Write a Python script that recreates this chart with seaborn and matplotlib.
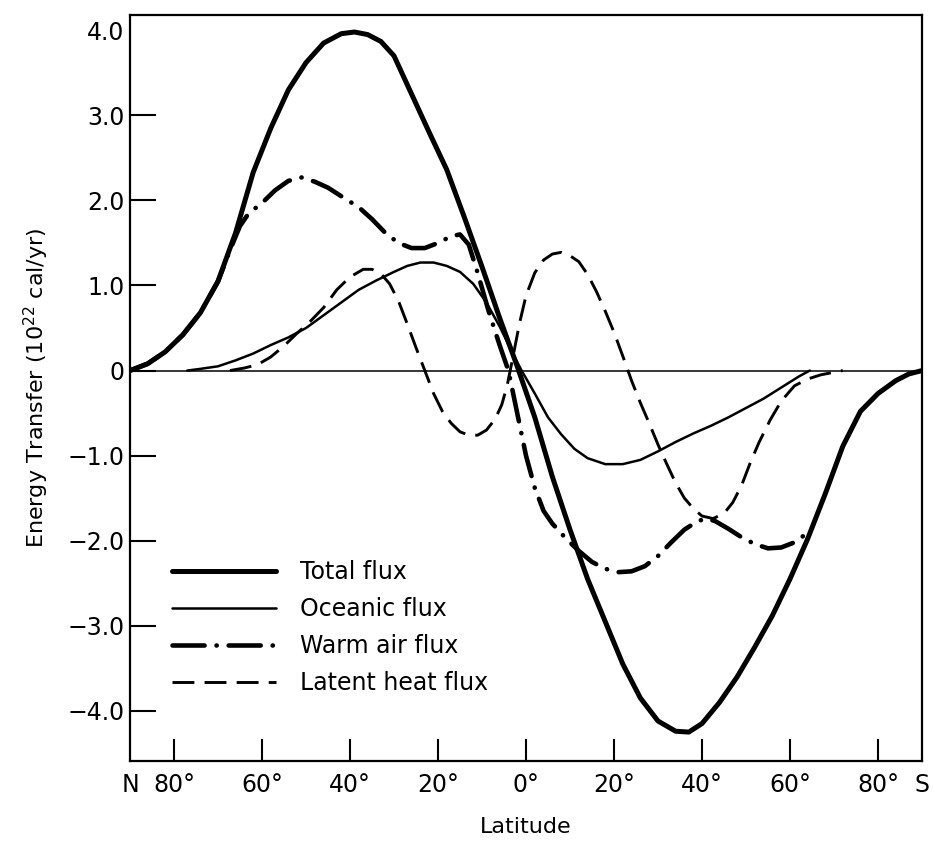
import numpy as np
import pandas as pd
import matplotlib
matplotlib.use("Agg")
import matplotlib.pyplot as plt
import seaborn as sns
from matplotlib.lines import Line2D

# ---------------- data (latitude: + = north, - = south) ----------------
total_lat = [90, 86, 82, 78, 74, 70, 66, 62, 58, 54, 50, 46, 42, 39, 36, 33, 30, 26, 22, 18, 14, 10, 6, 2,
             -2, -6, -10, -14, -18, -22, -26, -30, -34, -37, -40, -44, -48, -52, -56, -60, -64, -68,
             -72, -76, -80, -84, -87, -90]
total_val = [0.0, 0.08, 0.22, 0.42, 0.68, 1.05, 1.62, 2.33, 2.85, 3.30, 3.62, 3.85, 3.96, 3.98, 3.95, 3.87,
             3.70, 3.25, 2.80, 2.36, 1.80, 1.22, 0.62, 0.05,
             -0.55, -1.25, -1.87, -2.45, -2.95, -3.45, -3.85, -4.12, -4.24, -4.25, -4.15, -3.90, -3.60,
             -3.25, -2.88, -2.45, -1.98, -1.45, -0.89, -0.48, -0.27, -0.12, -0.04, 0.0]

ocean_lat = [77, 74, 70, 66, 62, 58, 54, 50, 46, 42, 38, 34, 30, 27, 24, 21, 18, 15, 12, 9, 6, 3, 1,
             -2, -5, -8, -11, -14, -18, -22, -26, -30, -34, -38, -42, -46, -50, -54, -58, -62, -64.5]
ocean_val = [0.0, 0.02, 0.05, 0.12, 0.20, 0.30, 0.39, 0.50, 0.65, 0.80, 0.95, 1.06, 1.16, 1.23, 1.27,
             1.27, 1.23, 1.16, 1.02, 0.80, 0.52, 0.20, 0.0,
             -0.27, -0.55, -0.75, -0.92, -1.03, -1.10, -1.10, -1.05, -0.95, -0.84, -0.74, -0.65, -0.55,
             -0.44, -0.33, -0.20, -0.07, 0.0]

warm_lat = [90, 86, 82, 78, 74, 70, 67, 65, 63, 60, 57, 54, 51, 48, 45, 42, 38, 35, 32, 29, 26, 23, 20,
            17, 15, 13, 11, 8.5, 6, 4, 2, 0, -2, -4, -6, -9, -12, -15, -18, -21, -24, -27, -30, -33,
            -36, -39, -41, -43, -46, -49, -52, -55, -58, -61, -64.5]
warm_val = [0.0, 0.08, 0.22, 0.42, 0.68, 1.05, 1.45, 1.70, 1.85, 1.97, 2.12, 2.23, 2.27, 2.22, 2.15,
            2.05, 1.92, 1.78, 1.62, 1.50, 1.44, 1.44, 1.50, 1.58, 1.60, 1.48, 1.15, 0.70, 0.30, 0.0,
            -0.50, -1.00, -1.38, -1.65, -1.80, -1.97, -2.12, -2.25, -2.33, -2.37, -2.36, -2.30, -2.18,
            -2.02, -1.87, -1.77, -1.74, -1.77, -1.86, -1.96, -2.04, -2.09, -2.08, -2.02, -1.89]

latent_lat = [67.3, 64, 61, 58, 55, 52, 49, 46, 43, 40, 37, 35, 33, 31, 29, 27, 25, 23, 21, 19, 17, 15,
              13, 11, 9, 7, 5.5, 4.3, 3, 1.5, 0, -2, -4, -6, -8, -10, -12, -14, -16, -18, -20, -22,
              -24, -26, -28, -30, -32, -34, -36, -38, -40, -42.5, -45, -47, -49, -51, -53, -55.5,
              -58, -61, -64, -67, -72]
latent_val = [0.0, 0.03, 0.07, 0.16, 0.29, 0.44, 0.58, 0.74, 0.95, 1.10, 1.19, 1.19, 1.14, 1.02, 0.82,
              0.55, 0.27, 0.0, -0.27, -0.48, -0.62, -0.72, -0.76, -0.76, -0.70, -0.57, -0.40, -0.18,
              0.15, 0.55, 0.88, 1.15, 1.30, 1.37, 1.39, 1.35, 1.28, 1.13, 0.93, 0.70, 0.45, 0.17,
              -0.12, -0.38, -0.62, -0.87, -1.10, -1.32, -1.50, -1.62, -1.71, -1.74, -1.68, -1.55,
              -1.35, -1.08, -0.84, -0.58, -0.36, -0.18, -0.10, -0.05, 0.0]

series_names = ["Total flux", "Oceanic flux", "Warm air flux", "Latent heat flux"]

x_ticks = [90, 80, 60, 40, 20, 0, -20, -40, -60, -80, -90]
x_labels = ["N", "80°", "60°", "40°", "20°", "0°", "20°", "40°", "60°", "80°", "S"]
y_ticks = [4, 3, 2, 1, 0, -1, -2, -3, -4]
y_labels = ["4.0", "3.0", "2.0", "1.0", "0", "\u22121.0", "\u22122.0", "\u22123.0", "\u22124.0"]

# ---------------- styling ----------------
sns.set_theme(style="white")
plt.rcParams['font.family'] = ['DejaVu Sans']
plt.rcParams['text.color'] = 'black'
plt.rcParams['axes.labelcolor'] = 'black'
plt.rcParams['xtick.color'] = 'black'
plt.rcParams['ytick.color'] = 'black'

W, H = 934, 843
fig = plt.figure(figsize=(W / 100, H / 100), dpi=100)
ax = fig.add_axes([130 / W, 1 - 761 / H, (922 - 130) / W, (761 - 15) / H])

styles = {
    "Total flux": dict(lw=3.6, linestyle="-"),
    "Oceanic flux": dict(lw=1.8, linestyle="-"),
    "Warm air flux": dict(lw=3.3, linestyle=(0, (7, 2.6, 0.05, 2.6)), dash_capstyle="round"),
    "Latent heat flux": dict(lw=2.1, linestyle=(0, (7.5, 3.5))),
}
data = {
    "Total flux": (total_lat, total_val),
    "Oceanic flux": (ocean_lat, ocean_val),
    "Warm air flux": (warm_lat, warm_val),
    "Latent heat flux": (latent_lat, latent_val),
}

ax.axhline(0, color="black", lw=1.1, zorder=1)

handles = []
for name in series_names:
    xs, ys = data[name]
    df = pd.DataFrame({"lat": xs, "val": ys})
    sns.lineplot(data=df, x="lat", y="val", ax=ax, color="black", sort=False,
                 estimator=None, zorder=3, solid_joinstyle="round", **styles[name])
    handles.append(Line2D([0], [0], color="black", **styles[name]))

ax.set_xlim(90, -90)
ax.set_ylim(-4.59, 4.18)

ax.set_xticks(x_ticks)
ax.set_xticklabels(x_labels, fontsize=17)
ax.set_yticks(y_ticks)
ax.set_yticklabels(y_labels, fontsize=17)

ax.tick_params(axis="x", direction="in", length=16, width=1.5, pad=9, color="black",
               labelcolor="black", bottom=True, top=False)
ax.tick_params(axis="y", direction="in", length=19, width=1.5, pad=4, color="black",
               labelcolor="black", left=True, right=False)
xt = ax.xaxis.get_major_ticks()
xt[0].tick1line.set_visible(False)
xt[-1].tick1line.set_visible(False)
ax.yaxis.get_major_ticks()[0].tick1line.set_visible(False)

for s in ax.spines.values():
    s.set_color("black")
    s.set_linewidth(1.6)

ax.set_xlabel("Latitude", fontsize=16, labelpad=14, color="black")
ax.set_ylabel(r"Energy Transfer (10$^{22}$ cal/yr)", fontsize=16, labelpad=12, color="black")

leg = ax.legend(handles, series_names, loc="upper left",
                bbox_to_anchor=(172 / W, 1 - 560 / H), bbox_transform=fig.transFigure,
                frameon=False, fontsize=17, handlelength=4.4, handletextpad=1.0,
                labelspacing=0.55, borderpad=0, borderaxespad=0)
for t in leg.get_texts():
    t.set_color("black")

fig.savefig("out.png", dpi=100)
